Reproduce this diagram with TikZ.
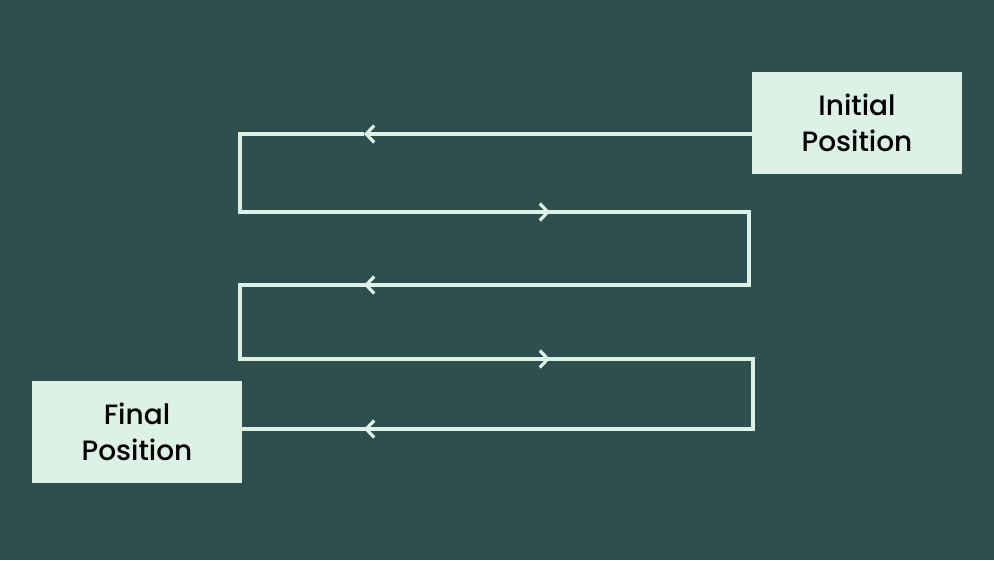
\documentclass[tikz,border=0pt]{standalone}
\usepackage{fontspec}
\setmainfont{Poppins}[BoldFont={Poppins Medium}]
\usetikzlibrary{arrows.meta}
\definecolor{slate}{HTML}{2F4F4E}
\definecolor{mint}{HTML}{DCF2E6}
\tikzstyle{block} = [rectangle, fill=mint, text=black, text width=200pt, align=center,
    minimum width=210pt, minimum height=102pt, inner sep=0pt, font=\fontsize{28}{36}\selectfont\bfseries]
\tikzstyle{wire} = [draw=mint, line width=3.2pt, line join=miter]
\tikzstyle{line} = [wire, -{Straight Barb[length=8pt, width=17pt]}]

\begin{document}
\begin{tikzpicture}[x=1pt, y=-1pt]
			\fill [slate] (0,0) rectangle (994,560);
			\useasboundingbox (0,0) rectangle (994,560);
			% Place nodes
			\node [block] (ip) at (857,123) {Initial\\Position};
			\node [block] (fp) at (137,432) {Final\\Position};
			% Corners and arrow points
			\coordinate (start) at (752,134);
			\coordinate (c1) at (240,134);
			\coordinate (c2) at (240,212);
			\coordinate (c3) at (749,212);
			\coordinate (c4) at (749,285);
			\coordinate (c5) at (240,285);
			\coordinate (c6) at (240,359);
			\coordinate (c7) at (753,359);
			\coordinate (c8) at (753,429);
			\coordinate (stop) at (242,429);
			\coordinate (m1) at (364,134);
			\coordinate (m2) at (550,212);
			\coordinate (m3) at (364,285);
			\coordinate (m4) at (550,359);
			\coordinate (m5) at (364,429);
			% Draw edges
			\path [line] (start) -- (m1);
			\path [wire] (m1) -- (c1) -- (c2) -- (m2);
			\path [line] (c2) -- (m2);
			\path [wire] (m2) -- (c3) -- (c4) -- (m3);
			\path [line] (c4) -- (m3);
			\path [wire] (m3) -- (c5) -- (c6) -- (m4);
			\path [line] (c6) -- (m4);
			\path [wire] (m4) -- (c7) -- (c8) -- (m5);
			\path [line] (c8) -- (m5);
			\path [wire] (m5) -- (stop);
	\end{tikzpicture}
\end{document}
